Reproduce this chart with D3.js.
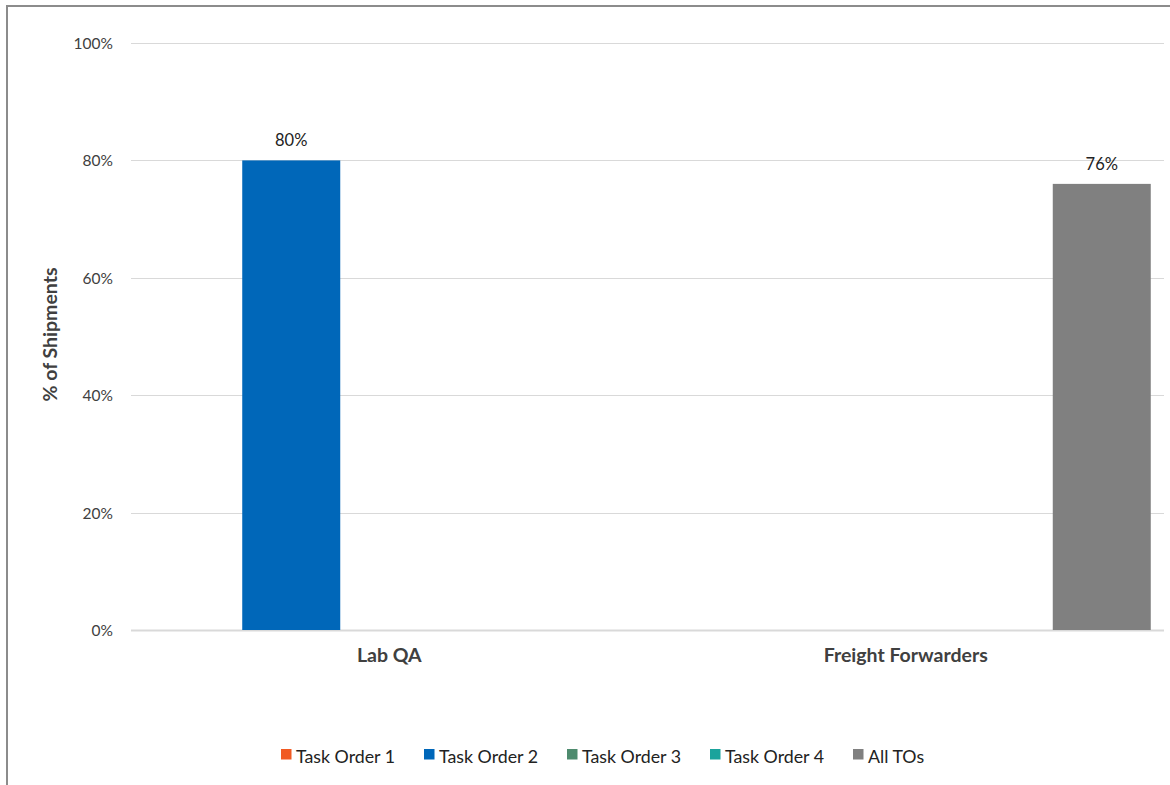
<!DOCTYPE html>
<html>
<head>
<meta charset="utf-8">
<script src="https://cdn.jsdelivr.net/npm/d3@7"></script>
<style>
  html, body { margin: 0; padding: 0; background: #fff; }
  svg { display: block; }
</style>
</head>
<body>
<svg id="chart" width="1170" height="785"></svg>
<script>
// Share of shipments by function and task order
const categories = ["Lab QA", "Freight Forwarders"];
const seriesNames = ["Task Order 1", "Task Order 2", "Task Order 3", "Task Order 4", "All TOs"];
const seriesColors = ["#F15A22", "#0067B9", "#4E8B6E", "#1BA39C", "#808080"];
const taskOrder1 = [null, null];
const taskOrder2 = [0.80, null];
const taskOrder3 = [null, null];
const taskOrder4 = [null, null];
const allTOs = [null, 0.76];
const yTicks = [0, 0.2, 0.4, 0.6, 0.8, 1.0];
const yTitle = "% of Shipments";

const seriesValues = [taskOrder1, taskOrder2, taskOrder3, taskOrder4, allTOs];

const svg = d3.select("#chart");
const W = 1170, H = 785;
const plot = { left: 131, right: 1164, top: 43, bottom: 630 };
const fontMain = "Lato, 'Open Sans', sans-serif";

// Outer chart frame
svg.append("rect")
  .attr("x", 7).attr("y", 6)
  .attr("width", W + 20).attr("height", H + 20)
  .attr("fill", "#fff")
  .attr("stroke", "#8c8c8c").attr("stroke-width", 2);

const y = d3.scaleLinear().domain([0, 1]).range([plot.bottom, plot.top]);
const x0 = d3.scaleBand().domain(categories).range([plot.left, plot.right]).paddingInner(0).paddingOuter(0);
const x1 = d3.scaleBand().domain(seriesNames).range([0, x0.bandwidth()]).paddingInner(0).paddingOuter(0.135);

// Gridlines
svg.append("g").selectAll("line")
  .data(yTicks)
  .join("line")
  .attr("x1", plot.left).attr("x2", plot.right)
  .attr("y1", d => Math.round(y(d)) + 0.5).attr("y2", d => Math.round(y(d)) + 0.5)
  .attr("stroke", "#d9d9d9")
  .attr("stroke-width", d => d === 0 ? 2 : 1.2);

// Y axis tick labels
const yAxis = d3.axisLeft(y).tickValues(yTicks).tickFormat(d3.format(".0%")).tickSize(0).tickPadding(0);
const gy = svg.append("g").attr("transform", `translate(${plot.left - 18},0)`).call(yAxis);
gy.select(".domain").remove();
gy.selectAll("text")
  .attr("font-family", fontMain)
  .attr("font-size", 15.5)
  .attr("fill", "#404040")
  .attr("dy", "0.35em");

// Y axis title
svg.append("text")
  .attr("transform", `translate(57,${(plot.top + plot.bottom) / 2 - 2}) rotate(-90)`)
  .attr("text-anchor", "middle")
  .attr("font-family", fontMain)
  .attr("font-weight", "bold")
  .attr("font-size", 19.5)
  .attr("fill", "#404040")
  .text(yTitle);

// Category labels
const xAxis = d3.axisBottom(x0).tickSize(0).tickPadding(0);
const gx = svg.append("g").attr("transform", `translate(0,${plot.bottom})`).call(xAxis);
gx.select(".domain").remove();
gx.selectAll("text")
  .attr("font-family", fontMain)
  .attr("font-weight", "bold")
  .attr("font-size", 19.5)
  .attr("fill", "#404040")
  .attr("dy", "1.62em");

// Bars
const barData = [];
categories.forEach((c, ci) => {
  seriesNames.forEach((s, si) => {
    const v = seriesValues[si][ci];
    if (v != null) barData.push({ category: c, series: s, value: v, color: seriesColors[si] });
  });
});

svg.append("g").selectAll("rect")
  .data(barData)
  .join("rect")
  .attr("x", d => x0(d.category) + x1(d.series))
  .attr("width", x1.bandwidth())
  .attr("y", d => y(d.value))
  .attr("height", d => y(0) - y(d.value))
  .attr("fill", d => d.color);

// Value labels
svg.append("g").selectAll("text")
  .data(barData)
  .join("text")
  .attr("x", d => x0(d.category) + x1(d.series) + x1.bandwidth() / 2)
  .attr("y", d => y(d.value) - 14)
  .attr("text-anchor", "middle")
  .attr("font-family", fontMain)
  .attr("font-size", 16.5)
  .attr("fill", "#222")
  .text(d => d3.format(".0%")(d.value));

// Legend
const legendX0 = 281, legendStep = 143, legendY = 749;
const lg = svg.append("g").selectAll("g")
  .data(seriesNames)
  .join("g")
  .attr("transform", (d, i) => `translate(${legendX0 + i * legendStep},${legendY})`);
lg.append("rect")
  .attr("width", 10.5).attr("height", 10.5)
  .attr("fill", (d, i) => seriesColors[i]);
lg.append("text")
  .attr("x", 15).attr("y", 13.5)
  .attr("font-family", fontMain)
  .attr("font-size", 17.8)
  .attr("fill", "#222")
  .text(d => d);
</script>
</body>
</html>
